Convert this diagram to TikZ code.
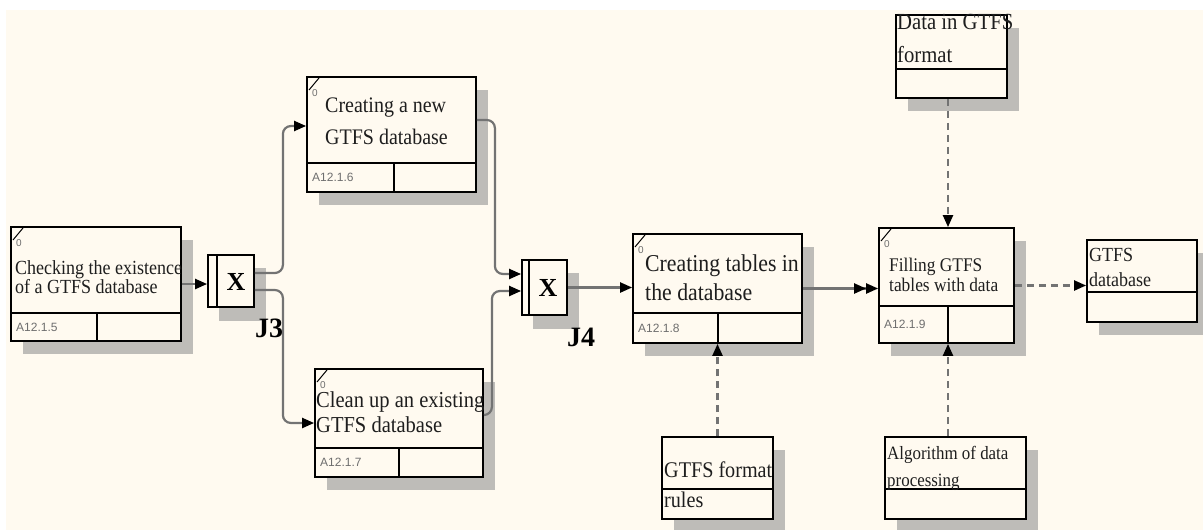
\documentclass[tikz,border=0pt]{standalone}
\usepackage{fontspec}
\setmainfont{Liberation Serif}
\newfontfamily\condserif[FakeStretch=0.9]{Liberation Serif}
\newfontfamily\idfont{Liberation Sans}
\usetikzlibrary{arrows.meta,shadows,fit,calc}
\definecolor{bgcream}{RGB}{255,250,240}
\definecolor{shgray}{RGB}{190,188,184}
\definecolor{conngray}{RGB}{115,115,115}
\definecolor{idgray}{RGB}{110,110,110}
\definecolor{txtdark}{RGB}{30,30,30}
\newcommand{\fsz}[2]{\fontsize{#1}{#2}\selectfont}
\tikzset{
  actbox/.style={draw=black, line width=1.8pt, fill=bgcream, inner sep=0pt,
    drop shadow={shadow xshift=12pt, shadow yshift=-13pt, fill=shgray, opacity=1}},
  boxline/.style={draw=black, line width=1.8pt},
  diagline/.style={draw=black, line width=1pt},
  zerolbl/.style={text=idgray, font=\idfont\fsz{10}{10}, inner sep=0pt},
  idlabel/.style={text=idgray, font=\idfont\fsz{12}{12}, inner sep=0pt, anchor=west},
  txt/.style={text=txtdark, inner sep=0pt, align=left, anchor=west},
  xlbl/.style={text=black, font=\bfseries\fsz{26}{26}, inner sep=0pt},
  jlabel/.style={text=black, font=\bfseries\fsz{28}{28}, inner sep=0pt},
  conn/.style={draw=conngray, line width=2.2pt, rounded corners=8pt},
  dconn/.style={draw=conngray, line width=2.2pt, dash pattern=on 7pt off 5pt},
  tip/.style={-{Triangle[length=12pt,width=10pt,color=black]}},
  dtip/.style={-{Triangle[length=12pt,width=10pt,color=black]Triangle[length=12pt,width=10pt,color=black]}}
}
% name, left, top, right, bottom, divider y, divider x, id
\newcommand{\idefact}[8]{%
  \node[actbox, fit={(#2,#3) (#4,#5)}] (#1) {};
  \draw[boxline] (#2,#6) -- (#4,#6);
  \draw[boxline] (#7,#6) -- (#7,#5);
  \draw[diagline] (#2+2,#3+13) -- (#2+12,#3+1);
  \node[zerolbl] at (#2+8,#3+16) {0};
  \node[idlabel] at (#2+5,{(#6+#5)/2}) {#8};
}
% name, left, top, right, bottom, divider y
\newcommand{\idefdata}[6]{%
  \node[actbox, fit={(#2,#3) (#4,#5)}] (#1) {};
  \draw[boxline] (#2,#6) -- (#4,#6);
}
% name, left, top, right, bottom, inner x
\newcommand{\idefjunc}[6]{%
  \node[actbox, drop shadow={shadow xshift=11pt, shadow yshift=-14pt, fill=shgray, opacity=1}, fit={(#2,#3) (#4,#5)}] (#1) {};
  \draw[boxline] (#6,#3) -- (#6,#5);
}
\begin{document}
\begin{tikzpicture}[x=1pt, y=-1pt]
\useasboundingbox (0,0) rectangle (1203,530);
\fill[white] (0,0) rectangle (1203,530);
\fill[bgcream] (6,10) rectangle (1203,530);

% activity boxes
\idefact{b5}{11}{227}{181}{341}{313}{97}{A12.1.5}
\idefact{b6}{307}{77}{476}{192}{163}{394}{A12.1.6}
\idefact{b7}{315}{369}{483}{477}{448}{399}{A12.1.7}
\idefact{b8}{633}{234}{802}{343}{313}{718}{A12.1.8}
\idefact{b9}{879}{228}{1014}{343}{306}{948}{A12.1.9}

% data boxes
\idefdata{db}{1087}{240}{1197}{322}{292}
\idefdata{data}{896}{15}{1007}{98}{69}
\idefdata{rules}{662}{437}{773}{519}{489}
\idefdata{algo}{885}{437}{1026}{519}{489}

% junctions
\idefjunc{j3}{208}{255}{254}{307}{217}
\idefjunc{j4}{522}{260}{567}{315}{529}
\node[xlbl] (x3) at (236,282) {X};
\node[xlbl] (x4) at (548,288) {X};
\node[jlabel] (lj3) at (269,328) {J3};
\node[jlabel] (lj4) at (581,337) {J4};

% texts
\node[txt, font=\condserif\fsz{20}{19}] (t5) at (15,277.5) {Checking the existence\\of a GTFS database};
\node[txt, font=\condserif\fsz{22.2}{32}] (t6) at (325,121) {Creating a new\\GTFS database};
\node[txt, font=\condserif\fsz{22.8}{25}] (t7) at (316,412.5) {Clean up an existing\\GTFS database};
\node[txt, font=\condserif\fsz{24.2}{29}] (t8) at (645,277.5) {Creating tables in\\the database};
\node[txt, font=\condserif\fsz{19.3}{20}] (t9) at (889,275) {Filling GTFS\\tables with data};
\node[txt, font=\condserif\fsz{20}{25}] (tdb) at (1089,267.5) {GTFS\\database};
\node[txt, font=\condserif\fsz{23}{33}] (tdata) at (897,38.5) {Data in GTFS\\format};
\node[txt, font=\condserif\fsz{22.4}{30}] (trules) at (664,485) {GTFS format\\rules};
\node[txt, font=\condserif\fsz{18.8}{27}] (talgo) at (887,468.5) {Algorithm of data\\processing};

% connectors
\draw[conn, tip] (b5.east) -- (j3.west |- b5.east);
\draw[conn, tip] ([yshift=8pt]j3.east) -- ++(28,0) |- ([yshift=8.5pt]b6.west);
\draw[conn, tip] ([yshift=-9pt]j3.east) -- ++(28,0) |- (b7.west);
\draw[conn, tip] ([yshift=14.5pt]b6.east) -- ++(18,0) |- ([yshift=13.5pt]j4.west);
\draw[conn, tip] ([yshift=8pt]b7.east) -- ++(8,0) |- ([yshift=-3.5pt]j4.west);
\draw[conn, tip] (j4.east) -- (b8.west |- j4.east);
\draw[conn, dtip] (b8.east) -- (b9.west |- b8.east);
\draw[dconn, tip] (b9.east) -- (db.west |- b9.east);
\draw[dconn, tip] ([xshift=1.5pt]b9.north |- data.south) -- ([xshift=1.5pt]b9.north);
\draw[dconn, tip] (rules.north) -- (b8.south -| rules.north);
\draw[dconn, tip] ([xshift=1.5pt]b9.south |- algo.north) -- ([xshift=1.5pt]b9.south);
\end{tikzpicture}
\end{document}
